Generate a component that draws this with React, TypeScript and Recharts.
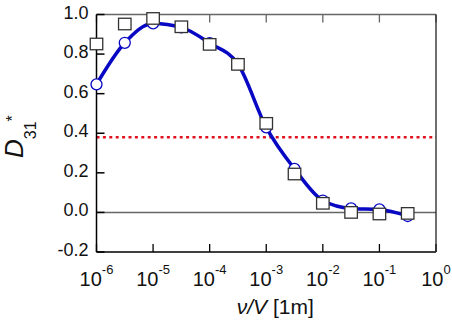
import {ComposedChart, Line, XAxis, YAxis, ReferenceLine} from "recharts";

// 横軸 v/V (対数), 縦軸 D31*
const xValues = [1e-6, 3.16e-6, 1e-5, 3.16e-5, 1e-4, 3.16e-4, 1e-3, 3.16e-3, 1e-2, 3.16e-2, 0.1, 0.316];
const circleValues = [0.647, 0.857, 0.955, 0.935, 0.855, 0.75, 0.43, 0.22, 0.06, 0.02, 0.015, -0.018];
const squareValues = [0.851, 0.952, 0.98, 0.938, 0.849, 0.748, 0.45, 0.194, 0.046, 0.0, -0.008, -0.005];

const xTicks = [1e-6, 1e-5, 1e-4, 1e-3, 1e-2, 1e-1, 1];
const yTicks = [-0.2, 0, 0.2, 0.4, 0.6, 0.8, 1.0];
const thresholdValue = 0.38;

const chartData = xValues.map((x, i) => ({x, circ: circleValues[i], sq: squareValues[i]}));

const FONT = "'Liberation Sans', Arial, sans-serif";
const BLUE = "#0808c4";

interface TickProps {
    x?: number;
    y?: number;
    payload?: { value: number };
}

const PowerTick = ({x = 0, y = 0, payload}: TickProps) => {
    const exp = Math.round(Math.log10(payload?.value ?? 1));
    return (
        <text x={x} y={y + 34} textAnchor="middle" fontSize={20} fontFamily={FONT} fill="#111">
            10<tspan dy={-12} fontSize={13}>{exp}</tspan>
        </text>
    );
};

const ValueTick = ({x = 0, y = 0, payload}: TickProps) => (
    <text x={x} y={y + 4} textAnchor="end" fontSize={18} fontFamily={FONT} fill="#111">
        {(payload?.value ?? 0).toFixed(1)}
    </text>
);

const NoTick = () => <g/>;

interface DotProps {
    cx?: number;
    cy?: number;
    index?: number;
}

const CircleDot = ({cx = 0, cy = 0, index}: DotProps) => (
    <circle key={`c-${index}`} cx={cx} cy={cy} r={5.5} fill="#fff" stroke={BLUE} strokeWidth={1.3}/>
);

const SquareDot = ({cx = 0, cy = 0, index}: DotProps) => (
    <rect key={`s-${index}`} x={cx - 6.25} y={cy - 5.75} width={12.5} height={11.5}
          fill="#fff" stroke="#333" strokeWidth={1.3}/>
);

interface ViewBox {
    x?: number;
    y?: number;
    width?: number;
    height?: number;
}

const XTitle = ({viewBox}: { viewBox?: ViewBox }) => {
    const vb = viewBox ?? {};
    const cx = (vb.x ?? 0) + (vb.width ?? 0) / 2 + 9;
    return (
        <text x={cx} y={(vb.y ?? 0) + 62} textAnchor="middle" fontSize={21} fontFamily={FONT} fill="#111">
            <tspan fontStyle="italic">ν/V</tspan> [1m]
        </text>
    );
};

const YTitle = () => (
    <text x={23} y={158} transform="rotate(-90, 23, 158)" fontFamily={FONT} fill="#111">
        <tspan fontSize={26} fontStyle="italic">D</tspan>
        <tspan fontSize={16} dy={13}>31</tspan>
        <tspan fontSize={16} dy={-18.5}>*</tspan>
    </text>
);

const App = () => {
    return (
        <div style={{position: "absolute", left: 0, top: 0, width: 452, height: 330, background: "#fff"}}>
            <ComposedChart width={452} height={330} data={chartData}
                           margin={{top: 0.5, right: 0, bottom: 0, left: 0}}>
                <ReferenceLine y={0} stroke="#666" strokeWidth={1.5}/>
                <ReferenceLine y={thresholdValue} stroke="#e0141e" strokeWidth={2.5} strokeDasharray="3 3.4"/>
                <Line dataKey="circ" type="monotone" stroke={BLUE} strokeWidth={3.5}
                      dot={CircleDot} activeDot={false} isAnimationActive={false}/>
                <Line dataKey="sq" type="monotone" stroke="none" strokeWidth={0}
                      dot={SquareDot} activeDot={false} isAnimationActive={false}/>
                <XAxis dataKey="x" type="number" scale="log" domain={[1e-6, 1]} ticks={xTicks}
                       interval={0} height={78} tickSize={-8} tickMargin={8}
                       stroke="#000" strokeWidth={1.3} tick={<PowerTick/>}
                       label={{content: <XTitle/>}}/>
                <XAxis xAxisId="top" orientation="top" dataKey="x" type="number" scale="log"
                       domain={[1e-6, 1]} ticks={xTicks} interval={0} height={14}
                       tickSize={-8} stroke="#666" strokeWidth={1.3} tick={NoTick}/>
                <YAxis yAxisId={0} orientation="left" type="number" domain={[-0.2, 1.0]} ticks={yTicks}
                       interval={0} width={96.5} tickSize={-8} tickMargin={16} stroke="#000"
                       strokeWidth={1.5} tick={<ValueTick/>} label={{content: <YTitle/>}}/>
                <YAxis yAxisId="right" orientation="right" type="number" domain={[-0.2, 1.0]}
                       ticks={yTicks} interval={0} width={16} tickSize={-8} stroke="#222"
                       strokeWidth={1.3} tick={NoTick}/>
            </ComposedChart>
        </div>
    );
};

export default App;
